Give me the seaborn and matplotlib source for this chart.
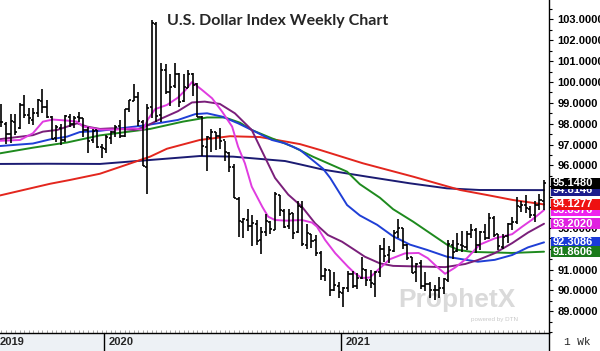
import numpy as np
import pandas as pd
import matplotlib
matplotlib.use("Agg")
import matplotlib.pyplot as plt
import matplotlib.transforms as mtransforms
from matplotlib.patches import Rectangle
from matplotlib.ticker import MultipleLocator, FixedLocator
import seaborn as sns

# ---------------- data (weekly OHLC, U.S. Dollar Index) ----------------
start_week = "2019-07-29"
opens = [98.06, 98.00, 97.50, 98.10, 97.80, 98.90, 98.40, 98.20, 98.50, 99.10,
         98.80, 98.30, 97.30, 97.80, 97.20, 98.30, 98.00, 98.30, 98.27, 97.70,
         97.20, 97.70, 96.90, 96.80, 97.30, 97.60, 97.90, 97.40, 98.70, 99.10,
         99.30, 98.10, 95.90, 98.80, 102.80, 98.40, 100.60, 99.50, 99.80, 100.40,
         99.10, 99.70, 100.40, 99.90, 98.30, 96.90, 97.30, 97.60, 97.40, 97.20,
         96.60, 95.90, 94.40, 93.30, 93.40, 93.10, 93.20, 92.40, 92.80, 93.30,
         92.90, 94.60, 93.80, 93.10, 93.70, 92.80, 94.00, 92.20, 92.70, 92.40,
         91.80, 90.70, 91.00, 90.00, 90.20, 89.90, 90.10, 90.80, 90.20, 90.60,
         91.00, 90.50, 90.30, 90.90, 92.00, 91.70, 91.90, 92.80, 93.00, 92.20,
         91.60, 90.90, 91.30, 90.20, 90.30, 90.00, 90.00, 90.10, 90.50, 92.20,
         91.90, 92.20, 92.10, 92.70, 92.90, 92.20, 92.80, 92.50, 93.50, 92.70,
         92.10, 92.60, 93.20, 93.30, 94.00, 94.10, 93.90, 93.60, 94.10, 94.30]
highs = [98.93, 98.10, 98.45, 98.45, 99.00, 99.37, 98.75, 98.73, 99.20, 99.67,
         99.12, 98.39, 97.92, 98.00, 98.40, 98.46, 98.37, 98.54, 98.28, 97.83,
         97.74, 97.72, 97.05, 97.46, 97.63, 97.95, 98.19, 98.72, 99.15, 99.91,
         99.50, 98.16, 98.95, 102.99, 102.87, 100.93, 100.86, 100.40, 100.93, 100.43,
         100.40, 100.56, 100.43, 99.97, 98.36, 97.39, 97.76, 97.61, 97.80, 97.17,
         96.64, 96.05, 94.47, 93.50, 93.89, 93.60, 93.39, 93.04, 93.66, 93.34,
         94.74, 94.60, 93.90, 93.89, 93.72, 94.30, 94.30, 93.20, 92.73, 92.65,
         91.87, 91.10, 91.00, 90.88, 90.39, 90.18, 90.95, 90.95, 90.85, 91.60,
         91.05, 91.00, 90.95, 92.17, 92.51, 92.12, 92.91, 93.44, 93.01, 92.24,
         91.61, 91.33, 91.44, 90.91, 90.40, 90.24, 90.63, 90.62, 92.41, 92.40,
         92.74, 92.83, 92.84, 93.19, 93.00, 92.87, 93.20, 93.73, 93.56, 92.72,
         92.73, 93.23, 93.53, 94.50, 94.28, 94.56, 94.05, 94.30, 94.64, 95.30]
lows = [97.83, 97.03, 97.07, 97.47, 97.73, 98.26, 97.97, 97.94, 98.33, 98.52,
        98.26, 97.25, 97.10, 96.97, 97.12, 97.86, 97.79, 98.09, 97.37, 96.60,
        97.09, 96.85, 96.36, 96.59, 97.01, 97.35, 97.31, 97.34, 98.55, 99.08,
        97.91, 95.97, 94.65, 98.27, 98.08, 98.08, 99.41, 98.86, 99.72, 98.81,
        99.05, 99.71, 99.34, 98.30, 96.43, 95.71, 96.64, 96.72, 96.81, 96.23,
        95.66, 94.43, 92.55, 92.52, 92.86, 92.13, 92.16, 91.75, 92.60, 92.70,
        92.92, 93.57, 92.99, 92.97, 92.47, 92.75, 92.13, 92.01, 92.03, 91.63,
        90.50, 90.47, 89.72, 89.97, 89.63, 89.21, 89.92, 90.12, 90.06, 90.54,
        90.21, 90.13, 89.68, 90.63, 91.38, 91.30, 91.84, 92.51, 91.99, 91.48,
        90.82, 90.42, 90.05, 89.98, 89.64, 89.53, 89.66, 89.81, 90.42, 91.51,
        91.84, 91.86, 91.96, 92.52, 91.78, 91.94, 92.44, 92.47, 92.58, 91.94,
        92.01, 92.30, 92.91, 93.21, 93.75, 93.71, 93.50, 93.28, 93.87, 93.87]
closes = [98.09, 97.51, 98.14, 97.62, 98.92, 98.40, 98.26, 98.53, 99.12, 98.80,
          98.30, 97.28, 97.83, 97.24, 98.35, 98.00, 98.27, 98.27, 97.68, 97.18,
          97.67, 96.90, 96.84, 97.36, 97.61, 97.86, 97.39, 98.69, 99.12, 99.26,
          98.13, 95.97, 98.75, 102.82, 98.36, 100.58, 99.52, 99.76, 100.37, 99.05,
          99.74, 100.37, 99.85, 98.34, 96.94, 97.34, 97.61, 97.43, 97.18, 96.64,
          95.90, 94.44, 93.35, 93.43, 93.09, 93.22, 92.37, 92.80, 93.33, 92.93,
          94.64, 93.85, 93.06, 93.69, 92.77, 94.04, 92.23, 92.76, 92.39, 91.79,
          90.70, 90.98, 90.02, 90.24, 89.94, 90.10, 90.77, 90.23, 90.58, 91.03,
          90.48, 90.36, 90.88, 91.99, 91.67, 91.92, 92.77, 93.02, 92.16, 91.56,
          90.86, 91.28, 90.22, 90.31, 90.01, 90.03, 90.13, 90.55, 92.23, 91.85,
          92.23, 92.12, 92.69, 92.90, 92.17, 92.80, 92.53, 93.50, 92.68, 92.13,
          92.58, 93.20, 93.28, 94.04, 94.09, 93.96, 93.62, 94.12, 94.32, 95.148]

# moving-average lines (week index, value)
ma_magenta_wk = [-0.3, 4.1, 6.9, 9.1, 11.3, 14.4, 16.6, 17.9, 20.1, 21.6, 25.3, 28.9,
                 31.1, 32.1, 33.7, 36.3, 38.7, 40.3, 41.8, 44.0, 46.2, 48.4, 50.6,
                 51.9, 53.4, 54.9, 57.2, 58.5, 60.0, 62.5, 65.9, 68.1, 69.2, 71.0,
                 73.2, 76.0, 77.5, 79.0, 80.8, 82.4, 85.2, 88.5, 91.5, 93.5, 95.5,
                 97.3, 99.5, 102.1, 104.9, 108.2, 112.0, 114.2, 116.4, 119.0]
ma_magenta = [97.18, 97.22, 97.54, 98.10, 98.20, 98.15, 98.10, 97.86, 97.78, 97.72,
              97.72, 97.78, 97.70, 98.20, 98.70, 98.90, 99.25, 99.60, 100.00, 99.62,
              99.22, 98.58, 97.86, 96.90, 96.10, 94.98, 94.02, 93.54, 93.38, 93.35,
              93.38, 93.26, 93.06, 92.42, 91.79, 91.14, 90.83, 90.60, 90.62, 90.95,
              91.50, 91.78, 91.80, 91.55, 91.14, 90.80, 91.10, 91.55, 92.20, 92.50,
              92.70, 93.06, 93.40, 93.8576]
ma_purple_wk = [-0.3, 6.9, 9.1, 12.2, 14.4, 16.6, 18.8, 21.6, 24.3, 29.3, 31.5, 35.2,
                38.7, 41.8, 44.6, 47.9, 51.2, 54.9, 57.2, 60.0, 62.9, 65.9, 68.8,
                71.6, 74.7, 77.5, 79.7, 83.0, 85.9, 97.3, 101.7, 104.5, 108.2, 112.0,
                115.5, 119.0]
ma_purple = [97.26, 97.45, 97.62, 97.70, 97.86, 98.02, 97.86, 97.75, 97.78, 97.70,
             97.86, 98.26, 98.60, 99.02, 99.06, 98.95, 98.50, 97.70, 96.66, 95.40,
             94.60, 94.02, 93.22, 92.66, 92.34, 91.94, 91.62, 91.30, 91.18, 91.12,
             91.27, 91.46, 91.79, 92.27, 92.78, 93.202]
ma_blue_wk = [-0.3, 6.9, 10.7, 14.4, 17.2, 21.6, 31.5, 38.7, 42.5, 45.1, 48.4, 51.9,
              54.9, 59.3, 62.2, 65.5, 70.5, 72.1, 75.8, 78.6, 82.4, 85.9, 89.6, 93.3,
              97.7, 101.0, 104.5, 108.2, 112.0, 115.5, 119.0]
ma_blue = [96.93, 97.05, 97.25, 97.38, 97.60, 97.66, 97.92, 98.18, 98.46, 98.50,
           98.34, 98.02, 97.70, 97.22, 97.06, 96.74, 95.85, 95.40, 94.10, 93.60,
           93.15, 92.60, 92.20, 91.95, 91.62, 91.50, 91.38, 91.47, 91.70, 92.07,
           92.3086]
ma_green_wk = [-0.3, 6.9, 14.4, 21.6, 32.6, 39.8, 45.1, 49.0, 52.3, 54.9, 59.3, 63.9,
               68.3, 75.8, 78.6, 83.0, 85.9, 90.3, 94.0, 97.7, 100.1, 103.2, 112.0,
               119.0]
ma_green = [96.58, 96.85, 97.10, 97.44, 97.75, 98.10, 98.30, 98.30, 98.05, 97.70,
            97.30, 96.90, 96.42, 95.70, 95.10, 94.45, 93.90, 93.30, 92.75, 92.20,
            91.95, 91.85, 91.80, 91.8606]
ma_red_wk = [-0.3, 10.7, 15.0, 21.6, 27.0, 32.6, 36.3, 43.5, 50.1, 56.7, 62.2, 65.5,
             69.9, 79.3, 90.3, 100.6, 106.5, 112.2, 119.0]
ma_red = [94.56, 95.12, 95.30, 95.60, 96.00, 96.42, 96.80, 97.22, 97.40, 97.36,
          97.15, 97.02, 96.74, 96.10, 95.46, 94.82, 94.58, 94.34, 94.1277]
ma_navy_wk = [-0.3, 10.0, 21.6, 32.6, 43.5, 50.8, 62.2, 65.5, 70.5, 80.2, 89.6, 97.7,
              104.9, 119.0]
ma_navy = [96.07, 96.08, 96.07, 96.26, 96.45, 96.42, 96.21, 96.05, 95.80, 95.46,
           95.14, 94.90, 94.82, 94.8146]

last_close = 95.1480
tag_values = [94.8146, last_close, 93.8576, 94.1277, 93.2020, 92.3086, 91.8606]
yticks = list(range(89, 104))
title = "U.S. Dollar Index Weekly Chart"
interval_label = "1 Wk"

# ---------------- styling ----------------
sns.set_theme(style="white")
plt.rcParams["font.family"] = ["Liberation Sans", "DejaVu Sans"]

W, H = 600, 351
fig = plt.figure(figsize=(W / 100, H / 100), dpi=100)
fig.patch.set_facecolor("white")
strip_h = 18 / H
ax = fig.add_axes([0, strip_h, 549 / W, 1 - strip_h])
ax.set_facecolor("white")

# bottom date strip background
fig.add_artist(Rectangle((0, 0), 549 / W, strip_h, transform=fig.transFigure,
                         facecolor="#edf1f5", edgecolor="none", zorder=0))

x = np.arange(len(opens))
dates = pd.date_range(start_week, periods=len(opens), freq="W-MON")

# moving averages
line_specs = [
    (ma_navy_wk, ma_navy, "#1b1b72"),
    (ma_red_wk, ma_red, "#e3261e"),
    (ma_green_wk, ma_green, "#1e8a1e"),
    (ma_blue_wk, ma_blue, "#1f3fd6"),
    (ma_purple_wk, ma_purple, "#7a1f7a"),
    (ma_magenta_wk, ma_magenta, "#e03ce0"),
]
for wk, vals, col in line_specs:
    sns.lineplot(x=wk, y=vals, color=col, lw=1.4, ax=ax, sort=False,
                 estimator=None, zorder=3)

# OHLC bars
ax.vlines(x, lows, highs, color="black", lw=1.2, zorder=4)
ax.hlines(opens, x - 0.45, x, color="black", lw=1.2, zorder=4)
ax.hlines(closes, x, x + 0.45, color="black", lw=1.2, zorder=4)

# watermark
ax.text(0.832, 0.10, "ProphetX", transform=ax.transAxes, fontsize=19,
        fontweight="bold", color="#dadada", ha="center", va="center", zorder=1)
ax.text(0.90, 0.04, "powered by DTN", transform=ax.transAxes, fontsize=4.5,
        color="#c8c8c8", ha="center", va="center", zorder=1)

# axes limits
ax.set_xlim(-0.31, 120.09)
ax.set_ylim(87.96, 103.935)
ax.set_xlabel("")
ax.set_ylabel("")

# spines
for s in ["top", "left"]:
    ax.spines[s].set_visible(False)
for s in ["right", "bottom"]:
    ax.spines[s].set_color("black")
    ax.spines[s].set_linewidth(1.0)

# y axis on right
ax.yaxis.tick_right()
ax.yaxis.set_major_locator(FixedLocator(yticks))
ax.set_yticklabels([f"{v:.4f}" for v in yticks])
ax.yaxis.set_minor_locator(MultipleLocator(0.5))
ax.tick_params(axis="y", which="major", direction="out", length=3, width=0.8,
               pad=3, labelsize=8, colors="black", right=True, left=False)
ax.tick_params(axis="y", which="minor", direction="out", length=2, width=0.8,
               right=True, left=False, colors="black")
for lbl in ax.get_yticklabels():
    lbl.set_fontweight("bold")

# x axis: weekly minor ticks only
ax.set_xticks([])
ax.set_xticks(x, minor=True)
ax.tick_params(axis="x", which="minor", direction="in", length=2, width=0.6,
               colors="#9a9a9a", bottom=True)

# price tags on the right axis
tag_colors = ["#1c1c8c", "#000000", "#ee22ee", "#ee1111", "#e020e0", "#1a3ad8", "#1a7a1a"]
ytrans = mtransforms.blended_transform_factory(fig.transFigure, ax.transData)
box_h = 11 / 20.85
for k, (v, c) in enumerate(zip(tag_values, tag_colors)):
    ax.add_patch(Rectangle((551 / W, v - box_h / 2), 49 / W, box_h, transform=ytrans,
                           facecolor=c, edgecolor="none", clip_on=False, zorder=10 + 2 * k))
    ax.text(553 / W, v, f"{v:.4f}", transform=ytrans, color="white", fontsize=8,
            fontweight="bold", ha="left", va="center", clip_on=False, zorder=11 + 2 * k)

# year separators and labels in the date strip
xtrans = mtransforms.blended_transform_factory(ax.transData, fig.transFigure)
years = dates.year.values
bounds = [i - 0.5 for i in range(1, len(years)) if years[i] != years[i - 1]]
for b, yr in zip(bounds, sorted(set(years))[1:]):
    ax.plot([b, b], [0, strip_h], transform=xtrans, color="black", lw=1.0, clip_on=False)
    ax.annotate(str(yr), xy=(b, strip_h / 2), xycoords=xtrans, xytext=(3, 0),
                textcoords="offset points", fontsize=8, fontweight="bold",
                ha="left", va="center", annotation_clip=False)
ax.annotate(str(years[0]), xy=(0, strip_h / 2), xycoords=("axes fraction", "figure fraction"),
            xytext=(0, 0), textcoords="offset points", fontsize=8, fontweight="bold",
            ha="left", va="center", annotation_clip=False)

# right panel divider through the strip, interval label
rtrans = mtransforms.blended_transform_factory(ax.transAxes, fig.transFigure)
ax.plot([1, 1], [0, strip_h], transform=rtrans, color="black", lw=1.0, clip_on=False)
fig.text(577 / W, strip_h / 2, interval_label, fontsize=8, family="Liberation Mono",
         ha="center", va="center")

# title
fig.text(278 / W, 1 - 21 / H, title, fontsize=11.5, fontweight="bold",
         family=["Lato", "DejaVu Sans"], ha="center", va="center")

fig.savefig("out.png", dpi=100, facecolor="white")
